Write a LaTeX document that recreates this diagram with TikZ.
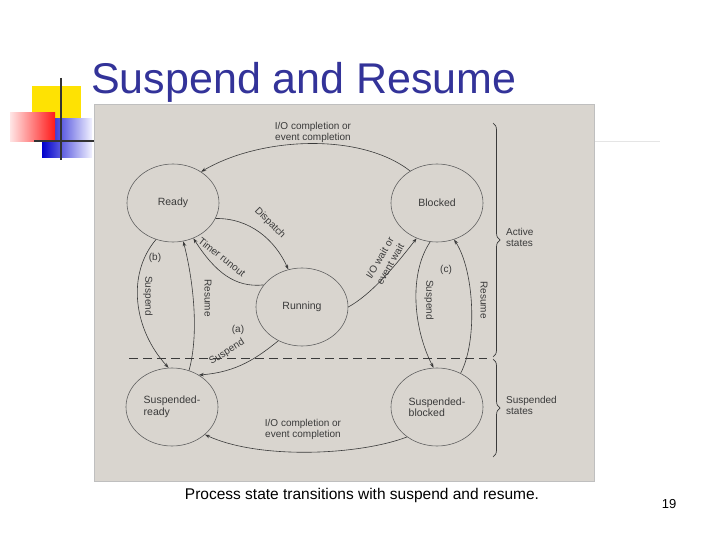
\documentclass[tikz,border=0pt]{standalone}
\usepackage{fontspec}
\setmainfont{Liberation Sans}
\usetikzlibrary{shapes.geometric,decorations.pathreplacing,arrows.meta}
\definecolor{titleblue}{HTML}{333399}
\definecolor{panel}{HTML}{D9D5CF}
\definecolor{ink}{HTML}{3A3A3A}
\tikzset{
  state/.style={ellipse,draw=ink!80,line width=0.6pt,minimum width=92,minimum height=78,font=\fontsize{10.5}{11.5}\selectfont,align=left,text=ink},
  tr/.style={draw=ink,line width=0.6pt,-{Stealth[length=5pt,width=3.5pt]}},
  lab/.style={font=\fontsize{10}{11}\selectfont,text=ink,inner sep=1pt,align=center}
}
\begin{document}
\begin{tikzpicture}[x=1pt,y=-1pt]
\useasboundingbox (0,0) rectangle (720,540);
\fill[white] (0,0) rectangle (720,540);
% logo
\fill[yellow!85!orange] (32,86) rectangle (81,119);
\shade[left color=blue!80!black,right color=blue!5] (42,119) rectangle (92,158);
\shade[left color=red!10,right color=red!90] (10,113) rectangle (55,142);
\draw[black!80,line width=1.8pt] (61,78) -- (61,160);
\draw[black!80,line width=1.8pt] (34,141) -- (94,141);
\draw[black!10,line width=0.6pt] (94,141) -- (660,141);
\node[anchor=base west,inner sep=0,text=titleblue,font=\fontsize{43}{43}\selectfont] (title) at (91,94) {Suspend and Resume};
% panel
\fill[panel] (94,104) rectangle (594,481);
\draw[black!25] (94,104) rectangle (594,481);
% states
\node[state,align=center] (ready) at (173,203) {Ready};
\node[state,align=center] (blocked) at (437,203) {Blocked};
\node[state,align=center] (running) at (302,307) {Running};
\node[state] (sready) at (172,407) {Suspended-\\ready};
\node[state] (sblocked) at (437,407) {Suspended-\\blocked};
% dashed divider
\coordinate (dl) at (129,358); \coordinate (dr) at (487,358);
\draw[ink,line width=0.7pt,dash pattern=on 9pt off 5pt] (dl) -- (dr);
% braces
\coordinate (b1) at (493,123); \coordinate (b2) at (493,357); \coordinate (b3) at (493,359); \coordinate (b4) at (493,457);
\draw[ink,line width=0.7pt,decorate,decoration={brace,amplitude=7pt}] (b1) -- (b2);
\draw[ink,line width=0.7pt,decorate,decoration={brace,amplitude=7pt}] (b3) -- (b4);
\node[lab,anchor=west,align=left] (act) at (505,237) {Active\\states};
\node[lab,anchor=west,align=left] (sus) at (505,405) {Suspended\\states};
% top and bottom arcs
\draw[tr] (blocked.130) .. controls (360,132) and (260,137) .. (ready.48);
\node[lab] (toplab) at (313,132) {I/O completion or\\event completion};
\draw[tr] (sblocked.225) .. controls (360,455) and (260,460) .. (sready.-40);
\node[lab] (botlab) at (303,429) {I/O completion or\\event completion};
% dispatch / timer
\draw[tr] (ready.-20) .. controls (250,218) and (275,240) .. (running.110);
\node[lab,rotate=-45] (disp) at (270,223) {Dispatch};
\draw[tr] (running.150) .. controls (235,288) and (215,272) .. (ready.-60);
\node[lab,rotate=-38] (timer) at (222,257) {Timer runout};
% io wait
\draw[tr] (running.0) .. controls (370,295) and (392,270) .. (blocked.-120);
\node[lab,rotate=60,font=\fontsize{10}{12}\selectfont] (iow) at (385,261) {I/O wait or\\event wait};
% suspend (a)
\draw[tr] (running.-125) .. controls (258,357) and (238,372) .. (sready.50);
\node[lab,rotate=32] (sa) at (227,352) {Suspend};
\node[lab] (a) at (238,330) {(a)};
% (b)
\draw[tr] (ready.-115) .. controls (126,275) and (134,330) .. (sready.95);
\draw[tr] (sready.65) .. controls (200,330) and (192,275) .. (ready.-75);
\node[lab,rotate=-90] (sb) at (148,296) {Suspend};
\node[lab,rotate=-90] (rb) at (208,298) {Resume};
\node[lab] (b) at (155,258) {(b)};
% (c)
\draw[tr] (blocked.-100) .. controls (408,275) and (414,330) .. (sblocked.95);
\draw[tr] (sblocked.55) .. controls (478,340) and (474,270) .. (blocked.-65);
\node[lab,rotate=-90] (sc) at (429,300) {Suspend};
\node[lab,rotate=-90] (rc) at (484,300) {Resume};
\node[lab] (c) at (446,270) {(c)};
% caption
\node[font=\fontsize{15.5}{17}\selectfont] (cap) at (362,495) {Process state transitions with suspend and resume.};
\node[font=\fontsize{13}{14}\selectfont] (num) at (669,504) {19};
\end{tikzpicture}
\end{document}
